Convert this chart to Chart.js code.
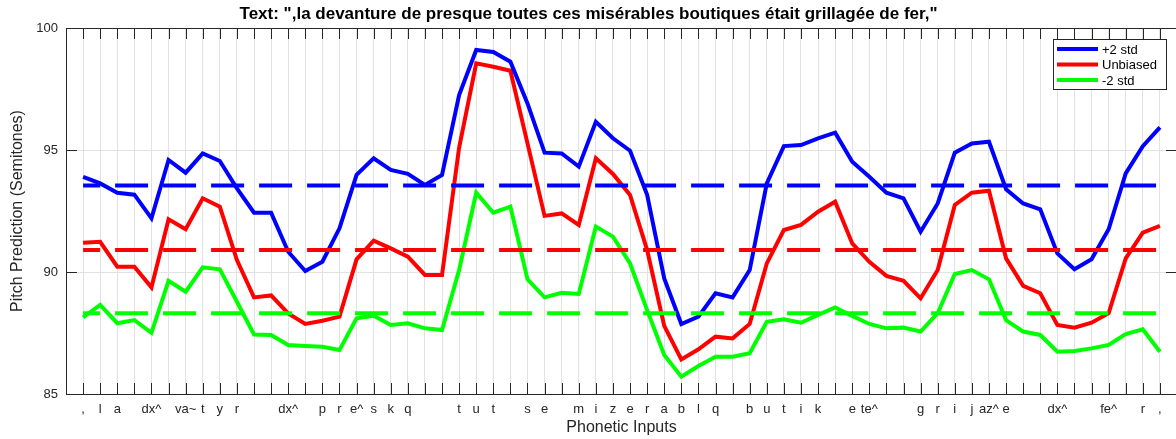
<!DOCTYPE html>
<html>
<head>
<meta charset="utf-8">
<script src="https://cdn.jsdelivr.net/npm/chart.js@4.4.1/dist/chart.umd.min.js"></script>
<style>
  html, body { margin: 0; padding: 0; background: #fff; overflow: hidden; }
  #chartBox { width: 1180px; height: 439px; }
</style>
</head>
<body>
<div id="chartBox"><canvas id="pitchChart" width="1180" height="439"></canvas></div>
<script>
// Phone labels, one per frame ('' where no label is shown)
const phones = [
  ',', 'l', 'a', '', 'dx^', '', 'va~', 't', 'y', 'r',
  '', '', 'dx^', '', 'p', 'r', 'e^', 's', 'k', 'q',
  '', '', 't', 'u', 't', '', 's', 'e', '', 'm',
  'i', 'z', 'e', 'r', 'a', 'b', 'l', 'q', '', 'b',
  'u', 't', 'i', 'k', '', 'e', 'te^', '', '', 'g',
  'r', 'i', 'j', 'az^', 'e', '', '', 'dx^', '', '',
  'fe^', '', 'r', ','
];

const plusTwoStd = [
  93.9, 93.63, 93.25, 93.17, 92.2, 94.59, 94.07, 94.86, 94.55, 93.43,
  92.43, 92.43, 90.83, 90.04, 90.42, 91.79, 93.98, 94.66, 94.18, 94.02,
  93.57, 93.98, 97.25, 99.1, 99.02, 98.62, 96.91, 94.89, 94.86, 94.32,
  96.16, 95.48, 94.97, 93.16, 89.74, 87.87, 88.17, 89.13, 88.96, 90.08,
  93.63, 95.16, 95.2, 95.48, 95.71, 94.52, 93.9, 93.25, 93.02, 91.65,
  92.81, 94.89, 95.27, 95.34, 93.39, 92.81, 92.57, 90.76, 90.11, 90.52,
  91.75, 94.04, 95.16, 95.93
];

const unbiased = [
  91.2, 91.24, 90.22, 90.22, 89.37, 92.16, 91.75, 93.02, 92.68, 90.49,
  88.96, 89.04, 88.3, 87.87, 88.0, 88.17, 90.52, 91.28, 90.97, 90.63,
  89.88, 89.88, 95.1, 98.55, 98.41, 98.25, 95.27, 92.3, 92.4, 91.93,
  94.66, 94.02, 93.16, 90.9, 87.79, 86.42, 86.83, 87.35, 87.28, 87.87,
  90.35, 91.72, 91.93, 92.47, 92.88, 91.17, 90.42, 89.84, 89.64, 88.92,
  90.08, 92.75, 93.25, 93.33, 90.56, 89.43, 89.13, 87.83, 87.72, 87.92,
  88.31, 90.56, 91.61, 91.89
];

const minusTwoStd = [
  88.14, 88.65, 87.9, 88.03, 87.51, 89.64, 89.19, 90.19, 90.11, 88.78,
  87.44, 87.42, 87.01, 86.97, 86.94, 86.8, 88.1, 88.21, 87.83, 87.9,
  87.69, 87.62, 90.08, 93.25, 92.43, 92.68, 89.7, 88.96, 89.15, 89.1,
  91.86, 91.45, 90.35, 88.44, 86.6, 85.71, 86.15, 86.53, 86.53, 86.67,
  87.96, 88.06, 87.92, 88.24, 88.55, 88.2, 87.87, 87.69, 87.72, 87.56,
  88.31, 89.92, 90.08, 89.7, 88.03, 87.56, 87.42, 86.73, 86.76, 86.87,
  87.01, 87.46, 87.65, 86.73
];

// sentence means, drawn as dashed lines
const meanPlus = 93.54;
const meanUnbiased = 90.9;
const meanMinus = 88.31;

const yMin = 85, yMax = 100, yStep = 5;

const FONT = "'Liberation Sans', Arial, Helvetica, sans-serif";
const AXIS_COLOR = '#262626';

const toPoints = arr => arr.map((v, i) => ({ x: i, y: v }));
const meanLine = v => [{ x: 0, y: v }, { x: phones.length - 1, y: v }];

function solid(label, data, color) {
  return {
    label, data: toPoints(data), borderColor: color, backgroundColor: color,
    borderWidth: 4, pointRadius: 0, tension: 0, inLegend: true, order: 2
  };
}

function dashed(value, color) {
  return {
    label: '', data: meanLine(value), borderColor: color,
    borderWidth: 4, borderDash: [33, 15], borderDashOffset: 16,
    pointRadius: 0, order: 1
  };
}

// inward ticks, closed box and legend in the upper right corner
const matlabAxes = {
  id: 'matlabAxes',
  afterDraw(chart) {
    const { ctx, chartArea: a, scales: { x, y } } = chart;
    const len = 11;
    ctx.save();
    ctx.strokeStyle = AXIS_COLOR;
    ctx.lineWidth = 1;
    ctx.beginPath();
    for (let i = 0; i < phones.length; i++) {
      const px = Math.round(x.getPixelForValue(i)) + 0.5;
      ctx.moveTo(px, a.bottom); ctx.lineTo(px, a.bottom - len);
      ctx.moveTo(px, a.top); ctx.lineTo(px, a.top + len);
    }
    for (let v = yMin; v <= yMax; v += yStep) {
      const py = Math.round(y.getPixelForValue(v)) + 0.5;
      ctx.moveTo(a.left, py); ctx.lineTo(a.left + len, py);
      ctx.moveTo(a.right, py); ctx.lineTo(a.right - len, py);
    }
    ctx.stroke();
    ctx.strokeRect(Math.round(a.left) + 0.5, Math.round(a.top) + 0.5,
      Math.round(a.right - a.left), Math.round(a.bottom - a.top));

    // legend
    const items = chart.data.datasets.filter(d => d.inLegend);
    const bx = 1053, by = 39, bw = 113, bh = 50, row = 15.5;
    ctx.fillStyle = '#fff';
    ctx.fillRect(bx, by, bw, bh);
    ctx.strokeStyle = AXIS_COLOR;
    ctx.strokeRect(bx + 0.5, by + 0.5, bw, bh);
    ctx.font = '13px ' + FONT;
    ctx.textBaseline = 'middle';
    items.forEach((d, i) => {
      const ly = by + 10 + i * row;
      ctx.strokeStyle = d.borderColor;
      ctx.lineWidth = 4;
      ctx.beginPath();
      ctx.moveTo(bx + 4, ly); ctx.lineTo(bx + 45, ly);
      ctx.stroke();
      ctx.fillStyle = '#000';
      ctx.fillText(d.label, bx + 49, ly + 1);
    });
    ctx.restore();
  }
};

new Chart(document.getElementById('pitchChart'), {
  type: 'line',
  data: {
    datasets: [
      solid('+2 std', plusTwoStd, '#0000ff'),
      solid('Unbiased', unbiased, '#ff0000'),
      solid('-2 std', minusTwoStd, '#00ff00'),
      dashed(meanPlus, '#0000ff'),
      dashed(meanUnbiased, '#ff0000'),
      dashed(meanMinus, '#00ff00')
    ]
  },
  options: {
    responsive: false,
    animation: false,
    devicePixelRatio: 1,
    layout: { padding: { left: 0, right: 3, top: 0, bottom: 0 } },
    plugins: {
      legend: { display: false },
      tooltip: { enabled: false },
      title: {
        display: true,
        text: 'Text: ",la devanture de presque toutes ces misérables boutiques était grillagée de fer,"',
        color: '#000',
        font: { family: FONT, size: 17, weight: 'bold' },
        padding: { top: 4, bottom: 3.6 }
      }
    },
    scales: {
      x: {
        type: 'linear',
        min: -1,
        max: phones.length,
        afterFit: s => { s.height = 45; },
        afterBuildTicks: s => {
          s.ticks = phones.map((_, i) => ({ value: i }));
        },
        grid: { color: '#e2e2e2', lineWidth: 1, drawTicks: false },
        border: { color: AXIS_COLOR, width: 1 },
        ticks: {
          autoSkip: false, maxRotation: 0, padding: 8,
          color: '#262626', font: { family: FONT, size: 13 },
          callback: v => phones[v] ?? ''
        },
        title: {
          display: true, text: 'Phonetic Inputs', color: '#262626',
          font: { family: FONT, size: 16 }, padding: { top: 0, bottom: 1.4 }
        }
      },
      y: {
        min: yMin,
        max: yMax,
        afterFit: s => { s.width = 66; },
        grid: { color: '#e2e2e2', lineWidth: 1, drawTicks: false },
        border: { color: AXIS_COLOR, width: 1 },
        ticks: {
          stepSize: yStep, padding: 8,
          color: '#262626', font: { family: FONT, size: 13 }
        },
        title: {
          display: true, text: 'Pitch Prediction (Semitones)', color: '#262626',
          font: { family: FONT, size: 16 }, padding: { top: 8.4, bottom: 0 }
        }
      }
    }
  },
  plugins: [matlabAxes]
});
</script>
</body>
</html>
